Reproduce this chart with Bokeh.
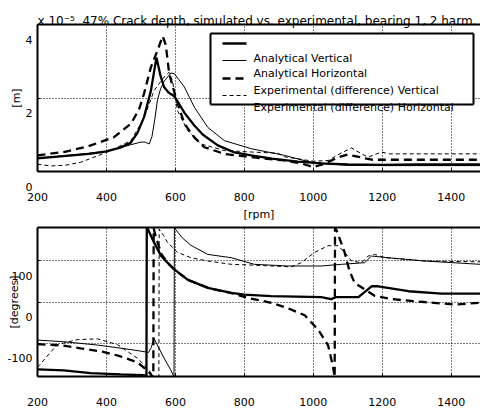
from bokeh.plotting import figure
from bokeh.layouts import column
from bokeh.models import Range1d, FixedTicker, LinearAxis, Label, BoxAnnotation, Arrow
from bokeh.embed import file_html
from bokeh.resources import INLINE

FONT = "DejaVu Sans"
FS = "11px"

# ---------------- data ----------------
x_ticks = [200, 400, 600, 800, 1000, 1200, 1400]
amp_ticks = [0, 2, 4]
phase_ticks = [-100, 0, 100]
x_lim = (200, 1485)
amp_lim = (0, 4)
phase_lim = (-180, 180)

title_text = "47% Crack depth, simulated vs. experimental, bearing 1, 2 harm."
amp_multiplier = "x 10\u207b\u2075"
series_names = ["Analytical Vertical", "Analytical Horizontal",
                "Experimental (difference) Vertical", "Experimental (difference) Horizontal"]

# amplitudes, units of 1e-5 m
av_rpm = [200, 250, 300, 350, 400, 440, 470, 490, 509, 529, 545, 557, 567, 580, 597, 626, 655, 680,
          723, 771, 820, 880, 955, 1023, 1100, 1200, 1300, 1400, 1485]
av_amp = [0.36, 0.40, 0.44, 0.48, 0.55, 0.65, 0.78, 1.05, 1.48, 2.20, 3.10, 2.60, 2.30, 2.15, 2.05, 1.60,
          1.25, 1.00, 0.71, 0.52, 0.44, 0.35, 0.27, 0.22, 0.19, 0.18, 0.19, 0.19, 0.19]

ah_rpm = [200, 300, 403, 471, 500, 512, 524, 532, 540, 548, 557, 567, 587, 597, 610, 626, 655, 694,
          742, 820, 916, 985, 1050, 1100, 1200, 1300, 1400, 1485]
ah_amp = [0.36, 0.45, 0.55, 0.73, 0.80, 0.80, 0.75, 0.95, 1.40, 1.95, 2.25, 2.45, 2.68, 2.66, 2.50, 2.30,
          1.75, 1.20, 0.84, 0.62, 0.44, 0.27, 0.20, 0.17, 0.16, 0.16, 0.16, 0.16]

ev_rpm = [200, 276, 345, 421, 471, 495, 509, 529, 548, 563, 572, 582, 601, 626, 655, 684, 742, 820,
          916, 965, 1000, 1030, 1070, 1100, 1140, 1170, 1300, 1485]
ev_amp = [0.44, 0.53, 0.68, 0.93, 1.30, 1.70, 2.12, 2.84, 3.29, 3.68, 3.45, 2.66, 2.02, 1.30, 0.93, 0.66,
          0.48, 0.39, 0.30, 0.22, 0.12, 0.20, 0.38, 0.46, 0.38, 0.32, 0.32, 0.32]

eh_rpm = [200, 238, 280, 325, 403, 471, 509, 538, 567, 582, 592, 606, 635, 674, 742, 820, 897, 916,
          1000, 1043, 1080, 1111, 1140, 1159, 1198, 1220, 1485]
eh_amp = [0.20, 0.15, 0.17, 0.25, 0.53, 0.84, 1.45, 2.20, 2.57, 2.70, 2.45, 1.66, 1.12, 0.75, 0.57, 0.53,
          0.50, 0.40, 0.28, 0.30, 0.50, 0.64, 0.48, 0.39, 0.53, 0.48, 0.48]

# phases, degrees
av_ph_rpm = [200, 276, 354, 441, 509, 516, 517, 519, 538, 558, 577, 597, 635, 694, 762, 800, 878,
             1023, 1052, 1067, 1131, 1169, 1188, 1276, 1372, 1485]
av_phase = [-163, -165, -172, -175, -177, -179, 181, 178, 144, 112, 95, 79, 54, 34, 22, 18, 14,
            12, 7, 12, 12, 38, 38, 26, 20, 20]

ah_ph_rpm = [200, 276, 374, 471, 509, 522, 530, 538, 550, 570, 587, 596, 597, 620, 645, 694, 762,
             829, 926, 1023, 1082, 1149, 1169, 1217, 1324, 1485]
ah_phase = [-92, -96, -104, -115, -120, -122, -110, -88, -108, -140, -165, -181, 179, 155, 137, 115, 107,
            91, 87, 87, 91, 95, 111, 107, 99, 91]

ev_ph_rpm = [200, 272, 325, 388, 436, 490, 519, 532, 536, 537, 545, 560, 580, 600, 640, 700, 760, 810,
             878, 926, 975, 1014, 1043, 1057, 1062, 1063, 1067, 1090, 1105, 1120, 1150, 1178, 1227,
             1290, 1350, 1410, 1485]
ev_phase = [-102, -105, -112, -120, -130, -146, -166, -178, -182, 178, 152, 115, 92, 76, 52, 33, 22, 10,
            -2, -15, -32, -67, -105, -155, -182, 178, 174, 122, 75, 46, 30, 15, 7,
            2, -2, -6, -2]

eh_ph_rpm = [200, 257, 315, 374, 432, 490, 519, 535, 552, 553, 566, 577, 606, 645, 694, 762, 829, 936,
             965, 1004, 1043, 1072, 1091, 1111, 1140, 1159, 1178, 1208, 1324, 1485]
eh_phase = [-158, -103, -91, -89, -103, -136, -160, -178, -186, 176, 160, 144, 120, 107, 99, 91, 89, 85,
            95, 120, 136, 136, 120, 99, 95, 111, 115, 107, 99, 97]

# ---------------- styles ----------------
STY = [dict(line_width=2.3, line_dash="solid"),
       dict(line_width=1.0, line_dash="solid"),
       dict(line_width=2.3, line_dash="8 5"),
       dict(line_width=1.0, line_dash="4 3")]

W = 480
H1 = 224
H2 = 411 - H1


def make_fig(height, top, bottom, yr, yticks, ylabel, ylabel_standoff):
    p = figure(width=W, height=height, x_range=Range1d(*x_lim), y_range=Range1d(*yr),
               output_backend="svg", toolbar_location=None,
               min_border_left=37, min_border_right=0, min_border_top=top, min_border_bottom=bottom)
    p.outline_line_color = None
    p.background_fill_color = "white"
    p.border_fill_color = "white"
    ax = p.below[0]
    ax.ticker = FixedTicker(ticks=x_ticks)
    ax.major_label_standoff = 21
    ax.major_tick_in = 3
    ax.major_tick_out = 0
    ax.minor_tick_line_color = None
    ax.axis_line_width = 2
    ax.axis_line_color = "black"
    ax.major_label_text_font = FONT
    ax.major_label_text_font_size = FS
    ax.major_label_text_color = "black"
    ay = p.left[0]
    ay.ticker = FixedTicker(ticks=yticks)
    # labels sit about one line below their tick, as in the reference
    ay.major_label_overrides = {t: "\n\n" + str(t) for t in yticks}
    ay.major_label_text_font = FONT
    ay.major_label_text_font_size = FS
    ay.major_label_text_color = "black"
    ay.major_label_standoff = 5
    ay.major_tick_in = 3
    ay.major_tick_out = 0
    ay.minor_tick_line_color = None
    ay.axis_line_width = 2
    ay.axis_line_color = "black"
    ay.axis_label = ylabel
    ay.axis_label_standoff = ylabel_standoff
    ay.axis_label_text_font = FONT
    ay.axis_label_text_font_size = FS
    ay.axis_label_text_font_style = "normal"
    ay.axis_label_text_color = "black"
    top_ax = LinearAxis(ticker=FixedTicker(ticks=[]), major_label_text_font_size="0px",
                        major_label_standoff=0, major_tick_in=0, major_tick_out=0,
                        major_tick_line_color=None, minor_tick_line_color=None,
                        axis_line_width=2, axis_line_color="black")
    p.add_layout(top_ax, "above")
    for g, t in ((p.xgrid[0], x_ticks), (p.ygrid[0], yticks)):
        g.ticker = FixedTicker(ticks=t)
        g.grid_line_color = "black"
        g.grid_line_dash = "1 2"
        g.grid_line_width = 1
    return p


def sx(p, cx):
    return cx - p.min_border_left


def sy(p, cy):
    return (p.height - p.min_border_bottom) - cy


def seg(p, x0, y0, x1, y1, **st):
    p.add_layout(Arrow(start=None, end=None, x_start=sx(p, x0), y_start=sy(p, y0),
                       x_end=sx(p, x1), y_end=sy(p, y1), start_units="screen", end_units="screen",
                       line_color="black", **st))


# ---------------- top panel ----------------
p1 = make_fig(H1, 24, H1 - 171, amp_lim, amp_ticks, "[m]", 0)
bx = p1.below[0]
bx.axis_label = "[rpm]"
bx.axis_label_standoff = 4
bx.axis_label_text_font = FONT
bx.axis_label_text_font_size = FS
bx.axis_label_text_font_style = "normal"
bx.axis_label_text_color = "black"

p1.title.text = amp_multiplier + "\u00a0" * 2 + title_text
p1.title.align = "left"
p1.title.offset = 0
p1.title.standoff = -7
p1.title.text_font = FONT
p1.title.text_font_size = "12px"
p1.title.text_font_style = "normal"
p1.title.text_color = "black"

for (xs, ys), st in zip([(av_rpm, av_amp), (ah_rpm, ah_amp), (ev_rpm, ev_amp), (eh_rpm, eh_amp)], STY):
    p1.line(xs, ys, line_color="black", **st)

# legend: white panel, border, samples, labels
p1.add_layout(BoxAnnotation(left=sx(p1, 211), right=sx(p1, 472), top=sy(p1, 34), bottom=sy(p1, 103),
                            left_units="screen", right_units="screen", top_units="screen",
                            bottom_units="screen", fill_color="white", fill_alpha=1.0,
                            line_color=None))
LB = dict(line_width=2, line_dash="solid")
seg(p1, 210, 33, 473, 33, **LB)
seg(p1, 210, 104, 473, 104, **LB)
seg(p1, 210, 33, 210, 104, **LB)
seg(p1, 473, 33, 473, 104, **LB)
for i, st in enumerate(STY):
    yy = [43, 60, 78, 95][i]
    seg(p1, 222, yy, 246, yy, **st)
for i, name in enumerate(series_names):
    p1.add_layout(Label(x=sx(p1, 253), y=sy(p1, [58, 73, 90, 107][i]), x_units="screen",
                        y_units="screen", text=name, text_align="left", text_baseline="middle",
                        text_font=FONT, text_font_size=FS, text_color="black"))

# ---------------- bottom panel ----------------
p2 = make_fig(H2, 227 - H1, 35, phase_lim, phase_ticks, "[degrees]", -16)
for (xs, ys), st in zip([(av_ph_rpm, av_phase), (ah_ph_rpm, ah_phase),
                         (ev_ph_rpm, ev_phase), (eh_ph_rpm, eh_phase)], STY):
    p2.line(xs, ys, line_color="black", **st)

layout = column(p1, p2, spacing=0)
open("out.html", "w").write(file_html(layout, INLINE))
